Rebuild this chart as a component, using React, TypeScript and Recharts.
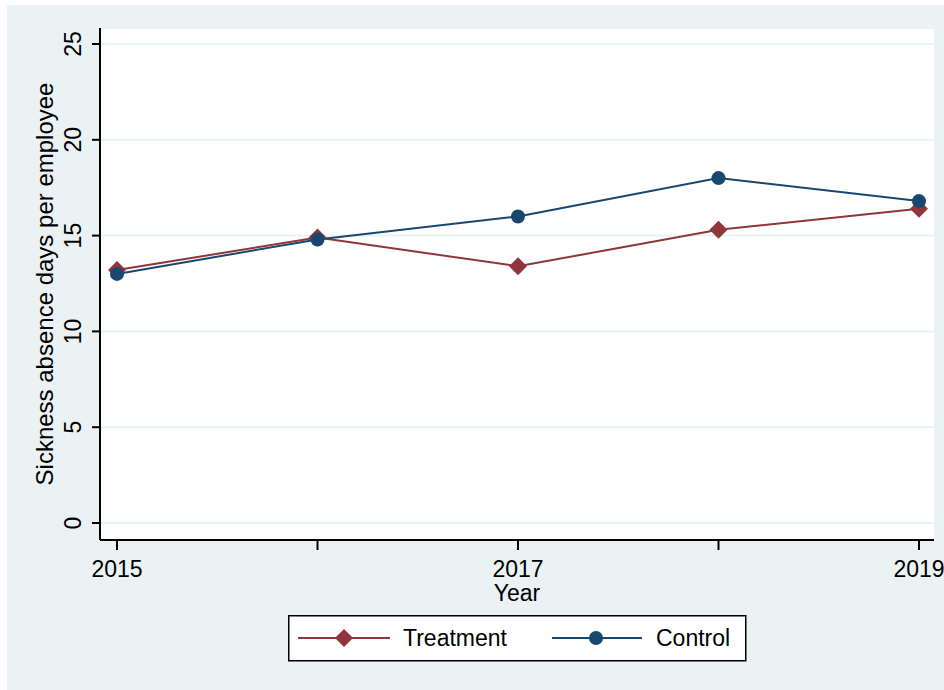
import React from 'react';
import {
  LineChart,
  Line,
  XAxis,
  YAxis,
  CartesianGrid,
} from 'recharts';

const years = [2015, 2016, 2017, 2018, 2019];
const treatment = [13.2, 14.9, 13.4, 15.3, 16.4];
const control = [13.0, 14.8, 16.0, 18.0, 16.8];
const yTicks = [0, 5, 10, 15, 20, 25];
const xLabelYears = [2015, 2017, 2019];

const data = years.map((year, i) => ({
  year,
  treatment: treatment[i],
  control: control[i],
}));

const RED = '#90353B';
const BLUE = '#1A476F';
const BG = '#EAF2F3';
const FONT = '"Liberation Sans", Arial, sans-serif';

const Diamond = (props: any) => {
  const { cx, cy } = props;
  if (cx == null || cy == null) return null;
  const r = 9;
  return (
    <polygon
      points={`${cx},${cy - r} ${cx + r},${cy} ${cx},${cy + r} ${cx - r},${cy}`}
      fill={RED}
    />
  );
};

const Dot = (props: any) => {
  const { cx, cy } = props;
  if (cx == null || cy == null) return null;
  return <circle cx={cx} cy={cy} r={7} fill={BLUE} />;
};

const YTick = (props: any) => {
  const { x, y, payload } = props;
  const bx = x - 9;
  return (
    <text
      x={bx}
      y={y}
      transform={`rotate(-90, ${bx}, ${y})`}
      textAnchor="middle"
      fontSize={23}
      fontFamily={FONT}
      fill="#000"
    >
      {payload.value}
    </text>
  );
};

const XTick = (props: any) => {
  const { x, y, payload } = props;
  if (!xLabelYears.includes(payload.value)) return null;
  return (
    <text
      x={x}
      y={y + 25}
      textAnchor="middle"
      fontSize={23}
      fontFamily={FONT}
      fill="#000"
    >
      {payload.value}
    </text>
  );
};

const LegendBox = () => (
  <svg width={460} height={47} style={{ display: 'block' }}>
    <rect x={0.75} y={0.75} width={457} height={45} fill="#fff" stroke="#000" strokeWidth={1.5} />
    <line x1={10} y1={23} x2={102} y2={23} stroke={RED} strokeWidth={2} />
    <polygon points="56,14 65,23 56,32 47,23" fill={RED} />
    <text x={115} y={31} fontSize={23} fontFamily={FONT} fill="#000">
      Treatment
    </text>
    <line x1={264} y1={23} x2={354} y2={23} stroke={BLUE} strokeWidth={2} />
    <circle cx={308} cy={23} r={7} fill={BLUE} />
    <text x={368} y={31} fontSize={23} fontFamily={FONT} fill="#000">
      Control
    </text>
  </svg>
);

export default function App() {
  return (
    <div
      style={{
        position: 'fixed',
        left: 0,
        top: 0,
        width: 944,
        height: 690,
        background: '#fff',
      }}
    >
      <div
        style={{
          position: 'absolute',
          left: 7,
          top: 5,
          width: 937,
          height: 685,
          background: BG,
        }}
      />
      <div style={{ position: 'absolute', left: 0, top: 0 }}>
        <LineChart
          width={944}
          height={690}
          data={data}
          margin={{ top: 28, right: 10, bottom: 0, left: 0 }}
        >
          <CartesianGrid
            vertical={false}
            stroke={BG}
            strokeWidth={2}
            fill="#fff"
          />
          <XAxis
            dataKey="year"
            type="number"
            domain={[2015, 2019]}
            ticks={years}
            padding={{ left: 17, right: 15 }}
            axisLine={{ stroke: '#000', strokeWidth: 2 }}
            tickLine={{ stroke: '#000', strokeWidth: 2 }}
            tickSize={10}
            tick={<XTick />}
            height={150}
            label={{
              value: 'Year',
              position: 'insideTop',
              offset: 45,
              fontSize: 23,
              fontFamily: FONT,
              fill: '#000',
            }}
          />
          <YAxis
            type="number"
            domain={[0, 25]}
            ticks={yTicks}
            padding={{ top: 16, bottom: 17 }}
            width={100}
            axisLine={{ stroke: '#000', strokeWidth: 2 }}
            tickLine={{ stroke: '#000', strokeWidth: 2 }}
            tickSize={8}
            tick={<YTick />}
            label={{
              value: 'Sickness absence days per employee',
              angle: -90,
              position: 'insideLeft',
              offset: 0,
              dx: 44,
              fontSize: 24,
              fontFamily: FONT,
              fill: '#000',
              style: { textAnchor: 'middle' },
            }}
          />
          <Line
            type="linear"
            dataKey="treatment"
            stroke={RED}
            strokeWidth={2}
            dot={<Diamond />}
            isAnimationActive={false}
          />
          <Line
            type="linear"
            dataKey="control"
            stroke={BLUE}
            strokeWidth={2}
            dot={<Dot />}
            isAnimationActive={false}
          />
        </LineChart>
      </div>
      <div style={{ position: 'absolute', left: 288, top: 615 }}>
        <LegendBox />
      </div>
    </div>
  );
}
